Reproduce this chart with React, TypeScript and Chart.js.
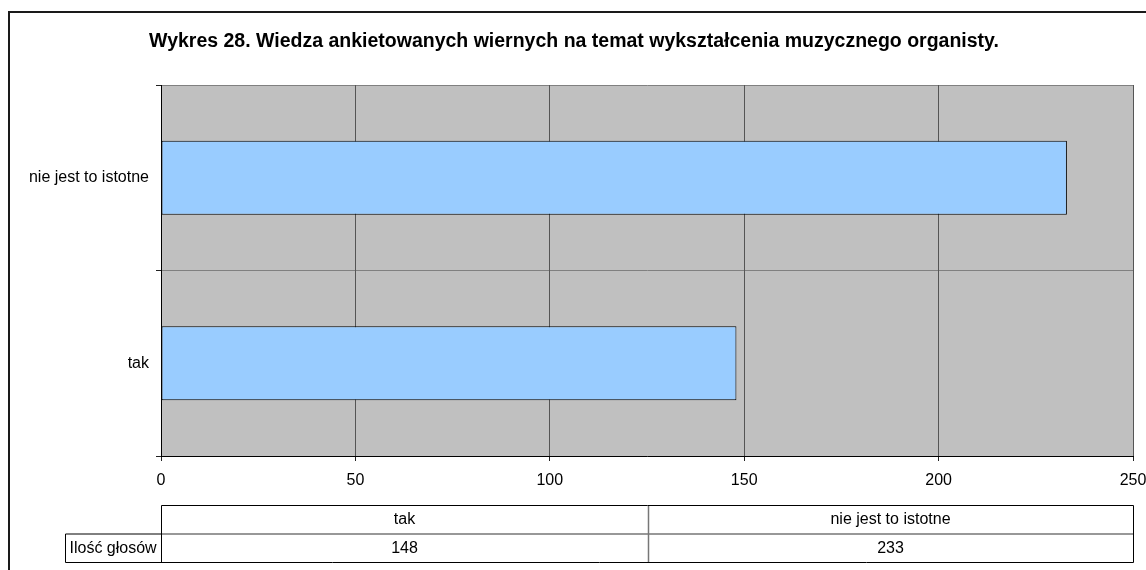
import React, { useEffect, useRef } from "react";
import { Chart, registerables } from "chart.js";

Chart.register(...registerables);

const chartTitle =
  "Wykres 28. Wiedza ankietowanych wiernych na temat wykształcenia muzycznego organisty.";
const categories = ["tak", "nie jest to istotne"];
const votes = [148, 233];
const seriesLabel = "Ilość głosów";
const xMin = 0;
const xMax = 250;
const xStep = 50;

const FONT = '"Liberation Sans", Arial, sans-serif';

const decorPlugin = {
  id: "decor",
  beforeDraw(chart: any) {
    const { ctx, chartArea } = chart;
    ctx.save();
    ctx.fillStyle = "#ffffff";
    ctx.fillRect(0, 0, chart.width, chart.height);
    ctx.strokeStyle = "#1a1a1a";
    ctx.lineWidth = 2;
    ctx.strokeRect(9, 12, 1300, 700);
    ctx.fillStyle = "#C0C0C0";
    ctx.fillRect(
      chartArea.left,
      chartArea.top,
      chartArea.right - chartArea.left,
      chartArea.bottom - chartArea.top
    );
    // title
    ctx.fillStyle = "#000";
    ctx.font = `bold 19.5px ${FONT}`;
    ctx.textAlign = "center";
    ctx.textBaseline = "middle";
    ctx.fillText(chartTitle, 574, 42);
    ctx.restore();
  },
  afterDraw(chart: any) {
    const { ctx, chartArea } = chart;
    const xs = chart.scales.x;
    const left = Math.round(xs.left) + 0.5;
    const right = Math.round(xs.right) + 0.5;
    const top = Math.round(chartArea.bottom + 49) + 0.5;
    const rowH = 28.5;
    const n = categories.length;
    const colW = (right - left) / n;
    const labelLeft = 65.5;
    ctx.save();
    // inner dividers
    ctx.strokeStyle = "#777";
    ctx.lineWidth = 1.5;
    ctx.beginPath();
    ctx.moveTo(left, top + rowH);
    ctx.lineTo(right, top + rowH);
    for (let i = 1; i < n; i++) {
      const x = Math.round(left + i * colW) + 0.5;
      ctx.moveTo(x, top);
      ctx.lineTo(x, top + 2 * rowH);
    }
    ctx.stroke();
    // outer lines
    ctx.strokeStyle = "#000";
    ctx.lineWidth = 1;
    ctx.beginPath();
    ctx.moveTo(left, top);
    ctx.lineTo(right, top);
    ctx.lineTo(right, top + 2 * rowH);
    ctx.lineTo(labelLeft, top + 2 * rowH);
    ctx.lineTo(labelLeft, top + rowH);
    ctx.lineTo(left, top + rowH);
    ctx.moveTo(left, top);
    ctx.lineTo(left, top + 2 * rowH);
    ctx.stroke();
    // texts
    ctx.fillStyle = "#000";
    ctx.font = `16px ${FONT}`;
    ctx.textBaseline = "middle";
    ctx.textAlign = "center";
    for (let i = 0; i < n; i++) {
      const cx = left + (i + 0.5) * colW;
      ctx.fillText(categories[i], cx, top + rowH / 2);
      ctx.fillText(String(votes[i]), cx, top + rowH * 1.5);
    }
    ctx.textAlign = "left";
    ctx.fillText(seriesLabel, labelLeft + 4, top + rowH * 1.5);
    ctx.restore();
  },
};

export default function App() {
  const ref = useRef<HTMLCanvasElement | null>(null);
  useEffect(() => {
    if (!ref.current) return;
    const chart = new Chart(ref.current, {
      type: "bar",
      data: {
        labels: categories,
        datasets: [
          {
            label: seriesLabel,
            data: votes,
            backgroundColor: "#99CCFF",
            borderColor: "#000",
            borderWidth: 1,
            borderSkipped: false,
            barPercentage: 0.4,
            categoryPercentage: 1,
          },
        ],
      },
      options: {
        indexAxis: "y",
        animation: false,
        responsive: false,
        layout: { padding: { left: 0, right: 13, top: 85, bottom: 0 } },
        plugins: {
          legend: { display: false },
          tooltip: { enabled: false },
          title: { display: false },
        },
        scales: {
          y: {
            type: "category",
            reverse: true,
            offset: true,
            afterFit(scale: any) {
              scale.width = 161;
              scale.paddingTop = 0;
              scale.paddingBottom = 0;
            },
            grid: {
              offset: true,
              color: "#808080",
              lineWidth: 1,
              tickLength: 5,
              tickColor: "#222",
            },
            border: { color: "#000", width: 1 },
            ticks: { color: "#000", padding: 7, font: { family: FONT, size: 16 } },
          },
          x: {
            type: "linear",
            min: xMin,
            max: xMax,
            afterFit(scale: any) {
              scale.height = 114;
              scale.paddingLeft = 0;
              scale.paddingRight = 0;
            },
            grid: {
              color: "#555",
              lineWidth: 1,
              tickLength: 5,
              tickColor: "#222",
            },
            border: { color: "#000", width: 1 },
            ticks: {
              stepSize: xStep,
              color: "#000",
              padding: 10,
              font: { family: FONT, size: 16 },
            },
          },
        },
      },
      plugins: [decorPlugin],
    });
    return () => chart.destroy();
  }, []);
  return (
    <div style={{ position: "fixed", left: 0, top: 0, width: 1146, height: 570 }}>
      <canvas ref={ref} width={1146} height={570} />
    </div>
  );
}
